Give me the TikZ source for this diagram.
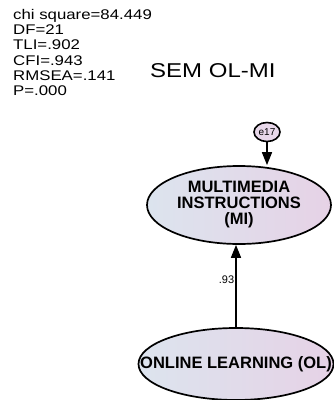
\documentclass[tikz,border=0pt]{standalone}
\usepackage{fontspec}
\setmainfont{Liberation Sans}
\newfontfamily\widefont[FakeStretch=1.2]{Liberation Sans}
\usetikzlibrary{arrows.meta,positioning,shapes.geometric}
\definecolor{LatentLeft}{RGB}{220,228,238}
\definecolor{LatentRight}{RGB}{230,210,230}
\definecolor{ErrorPink}{RGB}{232,216,234}

\begin{document}
\begin{tikzpicture}[x=1pt,y=-1pt,>={Triangle[length=13pt,width=10pt]},
  latent/.style={ellipse,draw,line width=1.7pt,inner sep=0pt,
    left color=LatentLeft,right color=LatentRight,align=center,
    font=\bfseries\fontsize{16.5}{16}\selectfont},
  errvar/.style={ellipse,draw,line width=1.6pt,fill=ErrorPink,inner sep=0pt,
    minimum width=26pt,minimum height=19pt,font=\fontsize{10}{10}\selectfont},
  path/.style={->,line width=1.6pt}]
  \useasboundingbox (0,0) rectangle (333,400);
  % fit indices and title
  \node[anchor=north west,inner sep=0pt,align=left,
    font=\widefont\fontsize{14}{15.3}\selectfont] (fit) at (13,9)
    {chi square=84.449\\DF=21\\TLI=.902\\CFI=.943\\RMSEA=.141\\P=.000};
  \node[anchor=west,inner sep=0pt,font=\widefont\fontsize{20}{20}\selectfont]
    (title) at (150,71) {SEM OL-MI};
  % latent variables
  \node[latent,minimum width=184pt,minimum height=78pt] (MI) at (239,205)
    {MULTIMEDIA\\INSTRUCTIONS\\(MI)};
  \node[latent,minimum width=195pt,minimum height=72pt] (OL) at (236,364)
    {\makebox[0pt]{ONLINE LEARNING (OL)}};
  \node[errvar] (e17) at (267,132) {e17};
  % paths
  \draw[path] (e17.south) -- (e17.south |- MI.north);
  \draw[path] (OL.north) -- (OL.north |- MI.south)
    node[pos=0.58,left,inner sep=1pt,font=\fontsize{11}{11}\selectfont] (b1) {.93};
\end{tikzpicture}
\end{document}
